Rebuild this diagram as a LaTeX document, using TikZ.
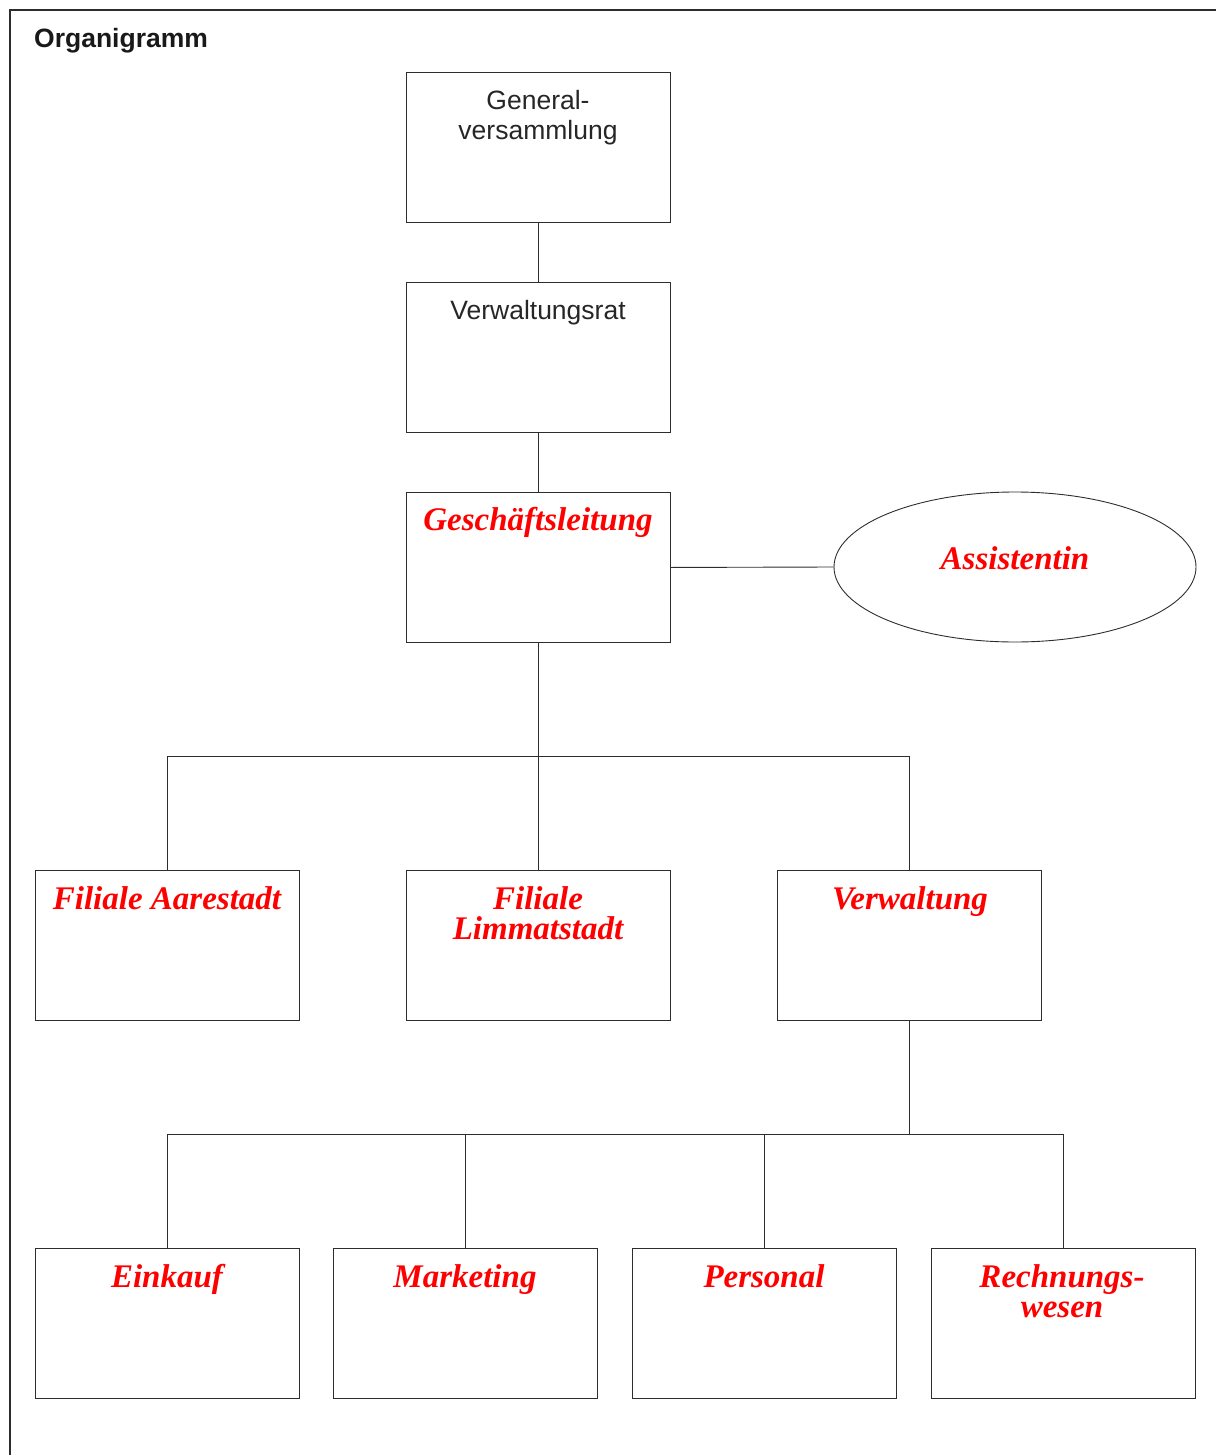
\documentclass[tikz,border=0pt]{standalone}
\usepackage{fontspec}
\setmainfont{Liberation Serif}
\setsansfont{Liberation Sans}
\usetikzlibrary{shapes.geometric}
\definecolor{linegray}{RGB}{45,45,45}
\definecolor{orgred}{RGB}{255,0,0}
\begin{document}
\begin{tikzpicture}[x=1pt,y=-1pt,
  box/.style={draw=linegray, line width=0.9pt, minimum width=264pt, minimum height=150pt, inner sep=0pt, anchor=north west},
  oval/.style={ellipse, draw=linegray, line width=0.9pt, minimum width=362pt, minimum height=150pt, inner sep=0pt},
  conn/.style={draw=linegray, line width=0.9pt},
  frame/.style={draw=linegray, line width=1.4pt},
  sanslbl/.style={anchor=north, inner sep=0pt, align=center, font=\sffamily\fontsize{26.5}{30}\selectfont, text=black!85},
  redlbl/.style={anchor=north, inner sep=0pt, align=center, font=\rmfamily\bfseries\itshape\fontsize{33}{30}\selectfont, text=orgred},
  titlelbl/.style={anchor=west, inner sep=0pt, font=\sffamily\bfseries\fontsize{26.5}{30}\selectfont, text=black!90}
]
\useasboundingbox (0,0) rectangle (1216,1455);
\draw[frame] (1216,10) -- (10,10) -- (10,1455);
\node[titlelbl] (title) at (34,40.5) {Organigramm};

% boxes
\node[box] (gv) at (406,72) {};
\node[box] (vr) at (406,282) {};
\node[box] (gl) at (406,492) {};
\node[oval] (as) at (1015,567) {};
\node[box] (fa) at (35,870) {};
\node[box] (fl) at (406,870) {};
\node[box] (vw) at (777,870) {};
\node[box] (ek) at (35,1248) {};
\node[box] (mk) at (333,1248) {};
\node[box] (ps) at (632,1248) {};
\node[box] (rw) at (931,1248) {};

% labels
\node[sanslbl] (gvT) at (538,90) {General-\\versammlung};
\node[sanslbl] (vrT) at (538,300) {Verwaltungsrat};
\node[redlbl] (glT) at (538,507) {Geschäftsleitung};
\node[redlbl] (asT) at (1015,546) {Assistentin};
\node[redlbl] (faT) at (167,886) {Filiale Aarestadt};
\node[redlbl] (flT) at (538,886) {Filiale\\Limmatstadt};
\node[redlbl] (vwT) at (910,886) {Verwaltung};
\node[redlbl] (ekT) at (167,1264) {Einkauf};
\node[redlbl] (mkT) at (465,1264) {Marketing};
\node[redlbl] (psT) at (764,1264) {Personal};
\node[redlbl] (rwT) at (1062,1264) {Rechnungs-\\wesen};

% junction coordinates
\coordinate (j1) at (538,756);
\coordinate (j2) at (907,1134);

% connectors
\draw[conn] (gv.south) -- (vr.north);
\draw[conn] (vr.south) -- (gl.north);
\draw[conn] (gl.east) -- (as.west);
\draw[conn] (gl.south) -- (fl.north);
\draw[conn] (fa.north) |- (vw.north |- j1) -- (vw.north);
\draw[conn] (vw.south) -- (vw.south |- j2);
\draw[conn] (ek.north) |- (rw.north |- j2) -- (rw.north);
\draw[conn] (mk.north) -- (mk.north |- j2);
\draw[conn] (ps.north) -- (ps.north |- j2);
\end{tikzpicture}
\end{document}
